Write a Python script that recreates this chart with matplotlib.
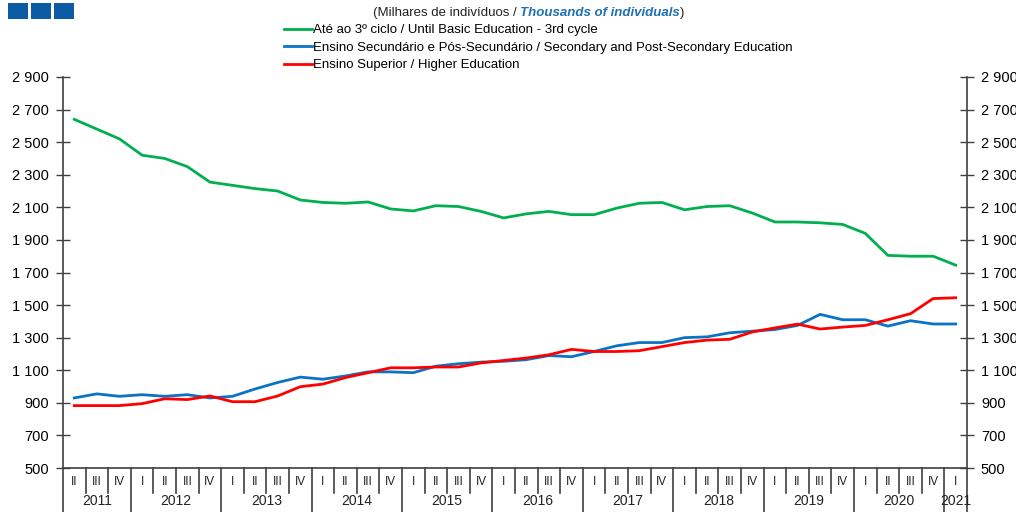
import matplotlib
matplotlib.use("Agg")
import matplotlib.pyplot as plt
import matplotlib.transforms as mtransforms
from matplotlib.patches import Rectangle

plt.rcParams['font.family'] = ['Liberation Sans', 'DejaVu Sans']

years = ["2011", "2012", "2013", "2014", "2015", "2016", "2017", "2018", "2019", "2020", "2021"]
quarters = (["II", "III", "IV"] + ["I", "II", "III", "IV"] * 9 + ["I"])

basic = [2640, 2580, 2520, 2420, 2400, 2350, 2255, 2235, 2215, 2200,
         2145, 2130, 2125, 2133, 2090, 2078, 2110, 2105, 2075, 2035,
         2060, 2075, 2055, 2055, 2095, 2125, 2130, 2085, 2105, 2110,
         2065, 2010, 2010, 2005, 1995, 1940, 1805, 1800, 1800, 1745]
secondary = [930, 955, 940, 950, 940, 950, 930, 940, 985, 1025,
             1058, 1045, 1065, 1090, 1090, 1085, 1125, 1140, 1150, 1155,
             1165, 1190, 1183, 1215, 1250, 1270, 1270, 1300, 1305, 1330,
             1340, 1350, 1375, 1443, 1410, 1410, 1371, 1404, 1384, 1384]
higher = [883, 883, 883, 895, 925, 920, 942, 907, 907, 942,
          999, 1015, 1055, 1085, 1115, 1115, 1120, 1120, 1145, 1160,
          1175, 1195, 1228, 1215, 1215, 1220, 1245, 1270, 1285, 1290,
          1335, 1360, 1383, 1353, 1365, 1375, 1410, 1447, 1540, 1545]

labels = ["Até ao 3º ciclo / Until Basic Education - 3rd cycle",
          "Ensino Secundário e Pós-Secundário / Secondary and Post-Secondary Education",
          "Ensino Superior / Higher Education"]
colors = ["#00B050", "#0A73C4", "#FF0000"]
yticks = list(range(500, 3000, 200))

fig = plt.figure(figsize=(10.16, 5.12), dpi=100)
ax = fig.add_axes([63/1016, 1 - 468/512, (967-63)/1016, (468-77)/512])

n = len(quarters)
xs = list(range(n))
for data, c, lab in zip([basic, secondary, higher], colors, labels):
    ax.plot(xs, data, color=c, lw=2.0, label=lab)

ax.set_xlim(-0.5, n - 0.5)
ax.set_ylim(500, 2900)
ax.set_yticks(yticks)
fmt = lambda v: f"{v:,}".replace(",", " ")
ax.set_yticklabels([fmt(v) for v in yticks])
ax.tick_params(axis='y', direction='inout', length=10, width=1, color='#404040',
               labelsize=10.5, left=True, right=True, labelleft=True, labelright=True, pad=5)
ax.set_xticks([])
for s in ['left', 'right', 'bottom']:
    ax.spines[s].set_color('#404040')
    ax.spines[s].set_linewidth(1.2)
ax.spines['top'].set_visible(False)

# categorical x axis (quarters and years)
trans = mtransforms.blended_transform_factory(ax.transData, ax.transAxes)
h = 391.0  # axes height in px
q_y = -14 / h
y_y = -33 / h
short = -25 / h
long_ = -44 / h
for i, q in enumerate(quarters):
    ax.text(i, q_y, q, transform=trans, ha='center', va='center', fontsize=8.5, color='#222222')
year_counts = [3] + [4] * 9 + [1]
pos = -0.5
boundaries = [pos]
for c in year_counts:
    pos += c
    boundaries.append(pos)
for i in range(n + 1):
    b = i - 0.5
    is_year = any(abs(b - yb) < 1e-9 for yb in boundaries)
    ax.plot([b, b], [0, long_ if is_year else short], transform=trans, color='#404040',
            lw=1.2, clip_on=False)
start = -0.5
for yr, c in zip(years, year_counts):
    ax.text(start + c / 2, y_y, yr, transform=trans, ha='center', va='center',
            fontsize=10, color='#222222')
    start += c

# legend
fig.legend(loc='upper left', bbox_to_anchor=(284/1016, 1 - 24/512), frameon=False,
           fontsize=9.5, handlelength=2.1, handletextpad=0.1, labelspacing=0.4,
           borderaxespad=0, borderpad=0)

# title (mixed styles)
t1 = fig.text(373/1016, 1 - 16/512, "(Milhares de indivíduos / ", fontsize=9.5, color='#222222')
t2 = ax.annotate("Thousands of individuals", xy=(1, 0), xycoords=t1, va='bottom',
                 fontsize=9.5, color='#1F6FB2', style='italic', weight='bold',
                 annotation_clip=False)
ax.annotate(")", xy=(1, 0), xycoords=t2, va='bottom', fontsize=9.5, color='#222222',
            annotation_clip=False)

# three squares at top-left
for k in range(3):
    fig.patches.append(Rectangle(((8 + k * 23) / 1016, 1 - 19/512), 20/1016, 16/512,
                                 transform=fig.transFigure, facecolor='#0B5BA5',
                                 edgecolor='none', figure=fig))

fig.savefig("out.png", dpi=100)
